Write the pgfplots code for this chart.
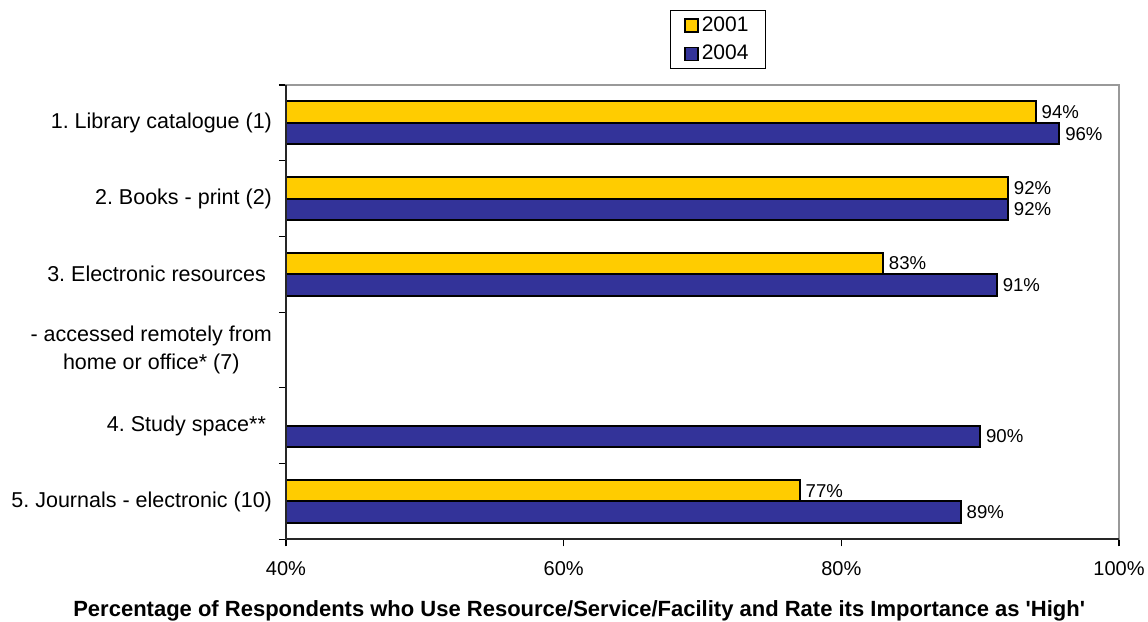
\documentclass[border=0pt]{standalone}
\usepackage{pgfplots}
\pgfplotsset{compat=1.18}
\usepackage{fontspec}
\setmainfont{Liberation Sans}[Ligatures=TeXOff]
\frenchspacing
\definecolor{cyel}{HTML}{FFCC00}
\definecolor{cblue}{HTML}{333399}
\begin{document}
\begin{tikzpicture}
\useasboundingbox (-143pt,-41.35pt) rectangle (431pt,269.65pt);
\begin{axis}[
  at={(0,0)}, anchor=south west,
  scale only axis, width=416.5pt, height=227.15pt,
  xbar, bar width=10.8pt,
  xmin=40, xmax=100, ymin=-0.5, ymax=5.5,
  clip=false,
  tick pos=left,
  xtick={40,60,80,100},
  xticklabels={40\%,60\%,80\%,100\%},
  ytick={-0.5,0.5,1.5,2.5,3.5,4.5,5.5},
  yticklabels={5. Journals - electronic (10),4. Study space**~,{- accessed remotely from\\home or office* (7)},3. Electronic resources~,2. Books - print (2),1. Library catalogue (1),{}},
  yticklabel style={yshift=18.93pt, align=center, font=\fontsize{10.75}{14}\selectfont},
  xticklabel style={font=\fontsize{10}{12}\selectfont, yshift=-4pt},
  tick align=outside, major tick length=3.5pt,
  tick style={black, line width=0.6pt},
  axis line style={draw=gray!80, line width=1pt},
  /pgf/number format/assume math mode=true,
  point meta=x,
  nodes near coords={\pgfmathprintnumber[fixed,precision=0]{\pgfplotspointmeta}\%},
  nodes near coords style={font=\fontsize{9.3}{10}\selectfont, anchor=west, inner sep=2.5pt},
  xlabel={\bfseries Percentage of Respondents who Use Resource/Service/Facility and Rate its Importance as 'High'},
  xlabel style={at={(axis description cs:0.352,0)}, anchor=center, yshift=-36pt, font=\fontsize{11}{13}\selectfont},
  legend style={at={(rel axis cs:0.5186,1.165)}, anchor=north, draw=black, line width=0.5pt,
    font=\fontsize{10.5}{12}\selectfont, inner xsep=7pt, inner ysep=1.5pt, row sep=2.5pt,
    nodes={inner sep=1.5pt}, cells={anchor=west}},
  legend image code/.code={\draw[#1, line width=0.7pt] (0pt,-3.25pt) rectangle (6.5pt,3.25pt);},
]
\addplot[fill=cyel, draw=black, line width=1pt, bar shift=5.4pt] coordinates {(94,5) (92,4) (83,3) (77,0)};
\addlegendentry{2001}
\addplot[fill=cblue, draw=black, line width=1pt, bar shift=-5.4pt] coordinates {(95.7,5) (92,4) (91.2,3) (90,1) (88.6,0)};
\addlegendentry{2004}
\draw[black!85, line width=1pt] (rel axis cs:0,1) -- (rel axis cs:0,0) -- (rel axis cs:1,0);
\end{axis}
\end{tikzpicture}
\end{document}
